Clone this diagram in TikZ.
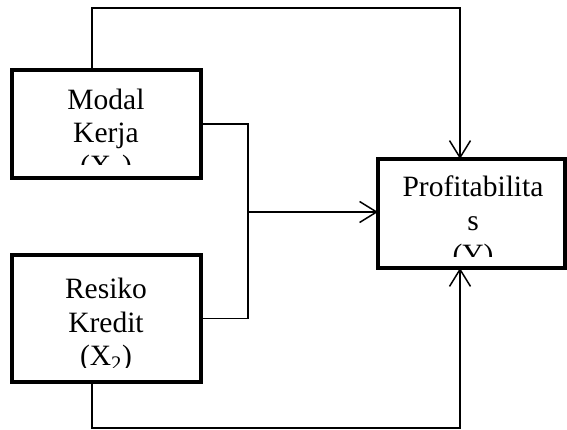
\documentclass[tikz,border=0pt]{standalone}
\usepackage{fontspec}
\setmainfont{Liberation Serif}
\usetikzlibrary{arrows.meta}
\begin{document}
\begin{tikzpicture}[x=1pt,y=-1pt,
  box/.style={draw=black,line width=4.5pt,fill=white,inner sep=0pt,outer sep=0pt},
  lbl/.style={inner sep=0pt,anchor=base,font=\fontsize{29.5}{33}\selectfont},
  conn/.style={draw=black,line width=1.2pt},
  arr/.style={conn,-{Straight Barb[length=17pt,width=21pt,line width=1.5pt]}}]
\useasboundingbox (0,0) rectangle (567,430);
% boxes
\node[box,minimum width=189pt,minimum height=108pt] (b1) at (106.5,124) {};
\node[box,minimum width=189pt,minimum height=127pt] (b2) at (106.5,318.5) {};
\node[box,minimum width=187pt,minimum height=109pt] (p) at (471.5,213.5) {};
% texts (clipped like the original)
\begin{scope}
\clip (12,70) rectangle (201,165);
\node[lbl] (t1a) at (106,110) {Modal};
\node[lbl] (t1b) at (106,143) {Kerja};
\node[lbl] (t1c) at (106,176) {(X\textsubscript{1})};
\end{scope}
\begin{scope}
\clip (12,255) rectangle (201,367);
\node[lbl] (t2a) at (106,298) {Resiko};
\node[lbl] (t2b) at (106,332) {Kredit};
\node[lbl] (t2c) at (106,365) {(X\textsubscript{2})};
\end{scope}
\begin{scope}
\clip (378,159) rectangle (565,256);
\node[lbl] (tpa) at (473,197) {Profitabilita};
\node[lbl] (tpb) at (473,231) {s};
\node[lbl] (tpc) at (473,265) {(Y)};
\end{scope}
% coordinates
\coordinate (top1) at (92,8);
\coordinate (top2) at (460,8);
\coordinate (bot1) at (92,428);
\coordinate (bot2) at (460,428);
\coordinate (j) at (248,212);
% connectors
\draw[arr] (b1.north -| top1) -- (top1) -- (top2) -- (p.north -| top2);
\draw[conn] (b1.east) -- (b1.east -| j) -- (b2.east -| j) -- (b2.east);
\draw[arr] (j) -- (p.west |- j);
\draw[arr] (b2.south -| bot1) -- (bot1) -- (bot2) -- (p.south -| bot2);
\end{tikzpicture}
\end{document}
